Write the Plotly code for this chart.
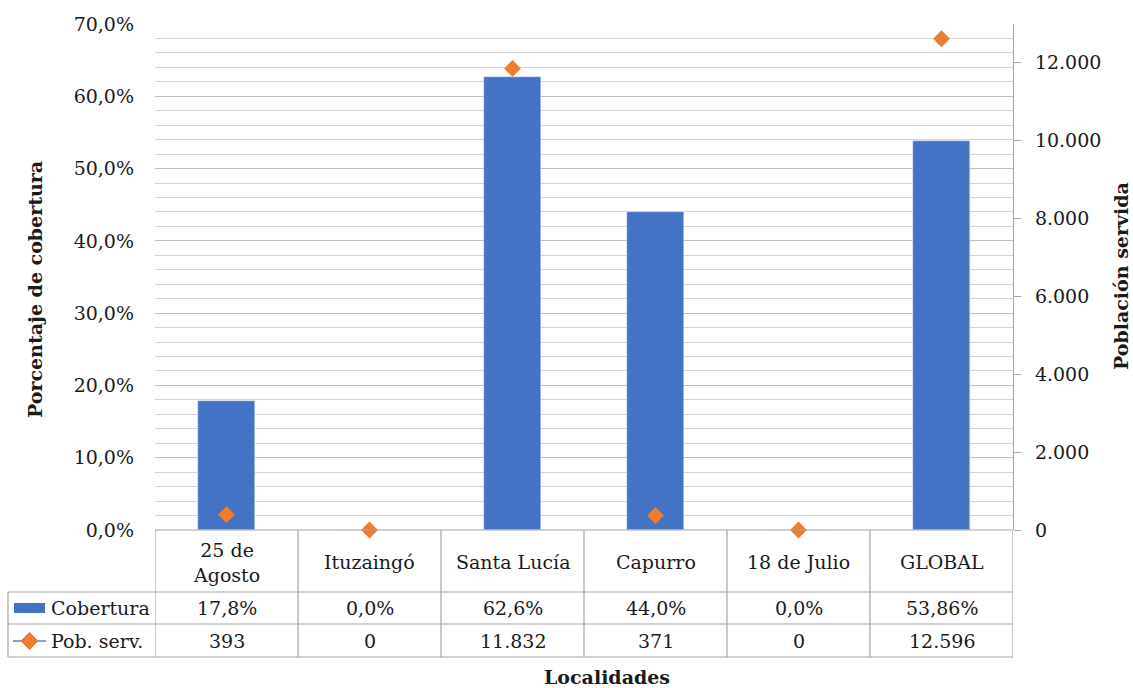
import plotly.graph_objects as go

# Coverage and served population per locality
localidades = ["25 de Agosto", "Ituzaingó", "Santa Lucía", "Capurro", "18 de Julio", "GLOBAL"]
cobertura = [0.178, 0.0, 0.626, 0.440, 0.0, 0.5386]
pob_servida = [393, 0, 11832, 371, 0, 12596]

serie_barras = "Cobertura"
serie_puntos = "Pob. serv."

AZUL = "#4472C4"
NARANJA = "#ED7D31"
GRIS = "#A6A6A6"
TEXTO = "#1a1a1a"
FUENTE = "DejaVu Serif"

W, H = 1133, 688
P_L, P_R, P_T, P_B = 155, 1013, 24, 530


def py(pix):
    """Pixel row -> paper y."""
    return (P_B - pix) / (P_B - P_T)


def px(pix):
    """Pixel column -> paper x."""
    return (pix - P_L) / (P_R - P_L)


def fmt_pct(v):
    pct = v * 100
    dec = 1 if abs(round(pct, 1) - pct) < 1e-9 else 2
    return f"{pct:.{dec}f}%".replace(".", ",")


def fmt_int(n):
    return f"{n:,}".replace(",", ".")


def wrap(name):
    if len(name) > 11:
        i = name.rfind(" ")
        return name[:i] + "<br>" + name[i + 1:]
    return name


idx = list(range(len(localidades)))

fig = go.Figure()
fig.add_trace(go.Bar(
    x=idx, y=cobertura, name=serie_barras, marker_color=AZUL,
    width=0.4, yaxis="y",
))
fig.add_trace(go.Scatter(
    x=idx, y=pob_servida, name=serie_puntos, mode="markers",
    marker=dict(symbol="diamond", size=13, color=NARANJA),
    yaxis="y2", cliponaxis=False,
))

# Right axis scaled so its top matches 70 % on the left
y2_max = 12975

shapes = []
annotations = []

# Data table rows (pixel rows)
R_HEAD_BOT, R1_BOT, R2_BOT = 592, 624, 657
LEG_L = 8
line = dict(color=GRIS, width=1.2)

# horizontal rules
shapes.append(dict(type="line", xref="paper", yref="paper", x0=0, x1=1,
                   y0=py(P_B), y1=py(P_B), line=line))
for r in (R_HEAD_BOT, R1_BOT, R2_BOT):
    shapes.append(dict(type="line", xref="paper", yref="paper", x0=px(LEG_L), x1=1,
                       y0=py(r), y1=py(r), line=line))
# vertical rules between localities
for i in range(len(localidades) + 1):
    shapes.append(dict(type="line", xref="x", yref="paper", x0=i - 0.5, x1=i - 0.5,
                       y0=py(P_B), y1=py(R2_BOT), line=line))
shapes.append(dict(type="line", xref="paper", yref="paper", x0=px(LEG_L), x1=px(LEG_L),
                   y0=py(R_HEAD_BOT), y1=py(R2_BOT), line=line))

# legend keys inside the table
shapes.append(dict(type="rect", xref="paper", yref="paper", x0=px(14), x1=px(45),
                   y0=py(613), y1=py(603), fillcolor=AZUL, line=dict(width=0)))
shapes.append(dict(type="line", xref="paper", yref="paper", x0=px(13), x1=px(46),
                   y0=py(641), y1=py(641), line=dict(color="#5B7FC7", width=1.5)))
cx, cy, r = 29.5, 641, 8.5
diamond = (f"M {px(cx)} {py(cy - r)} L {px(cx + r)} {py(cy)} "
           f"L {px(cx)} {py(cy + r)} L {px(cx - r)} {py(cy)} Z")
shapes.append(dict(type="path", xref="paper", yref="paper", path=diamond,
                   fillcolor=NARANJA, line=dict(color=NARANJA, width=1)))

tfont = dict(family=FUENTE, size=19, color=TEXTO)
annotations.append(dict(text=serie_barras, xref="paper", yref="paper", x=px(49), y=py(608),
                        xanchor="left", yanchor="middle", showarrow=False, font=tfont))
annotations.append(dict(text=serie_puntos, xref="paper", yref="paper", x=px(49), y=py(641),
                        xanchor="left", yanchor="middle", showarrow=False, font=tfont))

for i, name in enumerate(localidades):
    annotations.append(dict(text=wrap(name), xref="x", yref="paper", x=i, y=py(562),
                            xanchor="center", yanchor="middle", showarrow=False,
                            font=tfont, align="center"))
    annotations.append(dict(text=fmt_pct(cobertura[i]), xref="x", yref="paper", x=i, y=py(608),
                            xanchor="center", yanchor="middle", showarrow=False, font=tfont))
    annotations.append(dict(text=fmt_int(pob_servida[i]), xref="x", yref="paper", x=i, y=py(641),
                            xanchor="center", yanchor="middle", showarrow=False, font=tfont))

bfont = dict(family=FUENTE, size=19, color=TEXTO, weight="bold")
annotations.append(dict(text="<b>Localidades</b>", xref="paper", yref="paper", x=px(607), y=py(677),
                        xanchor="center", yanchor="middle", showarrow=False, font=bfont))
annotations.append(dict(text="<b>Porcentaje de cobertura</b>", xref="paper", yref="paper",
                        x=px(35), y=py(289), textangle=-90, xanchor="center", yanchor="middle",
                        showarrow=False, font=bfont))
annotations.append(dict(text="<b>Población servida</b>", xref="paper", yref="paper",
                        x=px(1121), y=py(276), textangle=-90, xanchor="center", yanchor="middle",
                        showarrow=False, font=bfont))

fig.update_layout(
    width=W, height=H,
    margin=dict(l=P_L, r=W - P_R, t=P_T, b=H - P_B),
    paper_bgcolor="white", plot_bgcolor="white",
    separators=",.",
    showlegend=False,
    bargap=0,
    font=dict(family=FUENTE, size=19, color=TEXTO),
    xaxis=dict(range=[-0.5, len(localidades) - 0.5], showticklabels=False, showgrid=False,
               zeroline=False, ticks="", showline=False, fixedrange=True),
    yaxis=dict(range=[0, 0.7], dtick=0.1, tickformat=".1%", showgrid=True,
               gridcolor="#BFBFBF", gridwidth=1, zeroline=False, ticks="",
               ticklabelstandoff=20, showline=False,
               minor=dict(dtick=0.02, showgrid=True, gridcolor="#D4D4D4", gridwidth=1),
               tickfont=dict(family=FUENTE, size=19, color=TEXTO)),
    yaxis2=dict(range=[0, y2_max], dtick=2000, tickformat=",.0f", overlaying="y", side="right",
                showgrid=False, zeroline=False, showline=True, linecolor=GRIS, linewidth=1.2,
                ticks="outside", ticklen=7, tickcolor=GRIS, tickwidth=1.2,
                ticklabelstandoff=10,
                tickfont=dict(family=FUENTE, size=19, color=TEXTO)),
    shapes=shapes,
    annotations=annotations,
)

fig.write_html("out.html")
